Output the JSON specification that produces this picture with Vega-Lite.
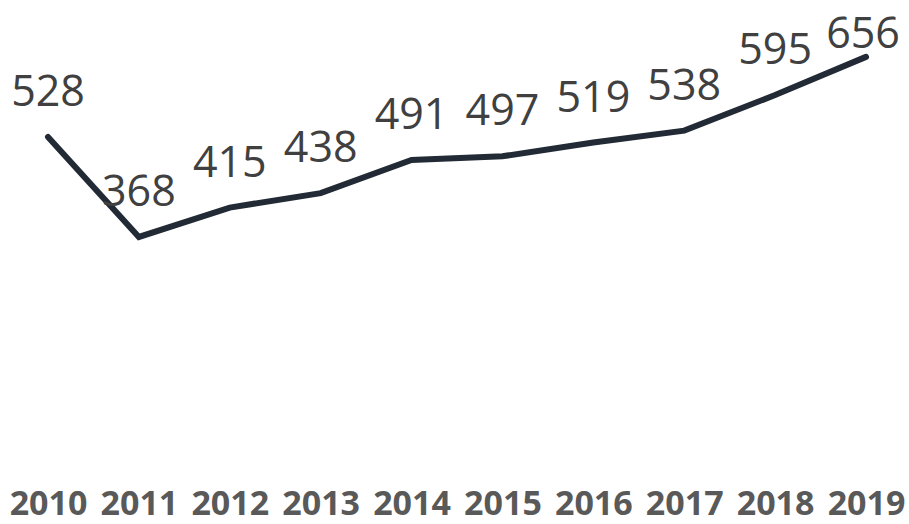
{
  "$schema": "https://vega.github.io/schema/vega-lite/v6.json",
  "autosize": {"type": "none"},
  "width": 909,
  "height": 467,
  "padding": {"left": 0, "top": 0, "right": 0, "bottom": 57},
  "background": "white",
  "config": {"view": {"stroke": null}},
  "data": {"values": [
    {"year": "2010", "value": 528},
    {"year": "2011", "value": 368},
    {"year": "2012", "value": 415},
    {"year": "2013", "value": 438},
    {"year": "2014", "value": 491},
    {"year": "2015", "value": 497},
    {"year": "2016", "value": 519},
    {"year": "2017", "value": 538},
    {"year": "2018", "value": 595},
    {"year": "2019", "value": 656}
  ]},
  "encoding": {
    "x": {"field": "year", "type": "ordinal", "scale": {"type": "point", "range": [48, 866], "padding": 0},
      "axis": {"title": null, "ticks": false, "domain": false, "labelAngle": 0, "labelFont": "Open Sans", "labelFontWeight": "bold", "labelFontSize": 34, "labelColor": "#595959", "labelBaseline": "alphabetic", "labelPadding": 47, "labelOverlap": false}},
    "y": {"field": "value", "type": "quantitative", "scale": {"domain": [0, 747], "nice": false, "zero": true}, "axis": null}
  },
  "layer": [
    {"mark": {"type": "line", "color": "#222a35", "strokeWidth": 6, "strokeCap": "round", "strokeJoin": "miter"}},
    {"transform": [{"filter": "datum.year !== '2019'"}],
     "mark": {"type": "text", "font": "Open Sans", "fontSize": 43, "color": "#404040", "baseline": "alphabetic", "dy": -31},
     "encoding": {"text": {"field": "value", "type": "quantitative"}}},
    {"transform": [{"filter": "datum.year === '2019'"}],
     "mark": {"type": "text", "font": "Open Sans", "fontSize": 43, "color": "#404040", "baseline": "alphabetic", "dy": -9, "dx": -3},
     "encoding": {"text": {"field": "value", "type": "quantitative"}}}
  ]
}
